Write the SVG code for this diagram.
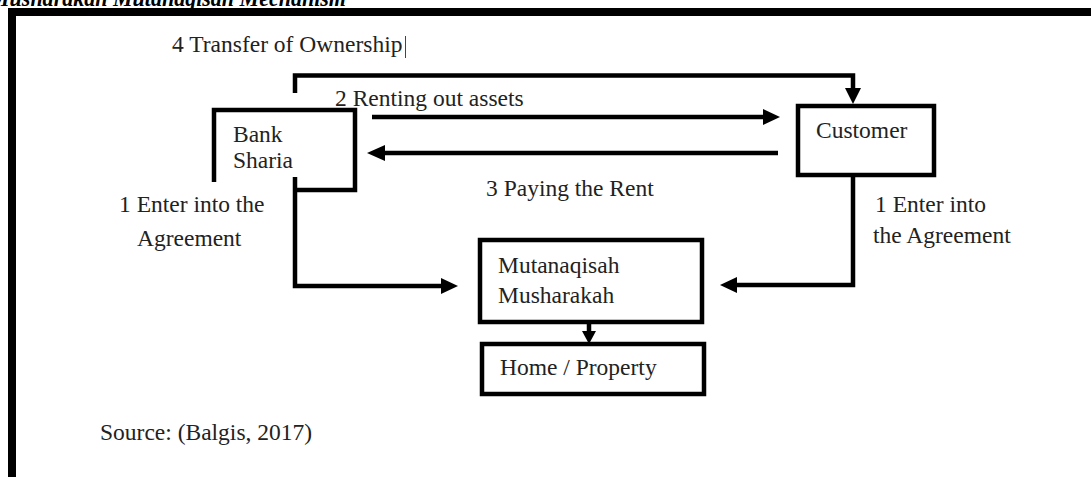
<svg xmlns="http://www.w3.org/2000/svg" width="1091" height="477" viewBox="0 0 1091 477">
<style>
.t{font-family:"Liberation Serif","Times New Roman",serif;font-size:23.5px;fill:#222}
.box{fill:#fff;stroke:#000;stroke-width:4.5}
.ln{fill:none;stroke:#000;stroke-width:4.5;stroke-linejoin:miter}
.ah{fill:#000}
</style>
<rect width="1091" height="477" fill="#fff"/>
<text x="-10" y="6" font-family="Liberation Serif, serif" font-size="24" font-weight="bold" font-style="italic" fill="#000" textLength="356" lengthAdjust="spacingAndGlyphs">Musharakah Mutanaqisah  Mechanism</text>
<path d="M12,477 V12 H1091" fill="none" stroke="#000" stroke-width="8"/>
<text class="t" x="172" y="52">4 Transfer of Ownership</text>
<line x1="405.5" y1="36" x2="405.5" y2="58" stroke="#444" stroke-width="1"/>
<g id="bank">
<path class="ln" d="M214,182 V110 H355 V190 H293"/>
<text class="t" x="233" y="142">Bank</text>
<text class="t" x="233" y="168">Sharia</text>
</g>
<g id="customer">
<rect class="box" x="798" y="106" width="136" height="69"/>
<text class="t" x="816" y="138">Customer</text>
</g>
<g id="musharakah">
<rect class="box" x="480" y="240" width="222" height="82"/>
<text class="t" x="498" y="273">Mutanaqisah</text>
<text class="t" x="498" y="303">Musharakah</text>
</g>
<g id="home">
<rect class="box" x="482" y="344" width="222" height="50"/>
<text class="t" x="500" y="375">Home / Property</text>
</g>
<g id="connectors">
<path class="ln" d="M295,93 V75.5 H853 V90"/>
<polygon class="ah" points="845,88 861,88 853,104"/>
<line class="ln" x1="372" y1="117" x2="765" y2="117"/>
<polygon class="ah" points="763,109 780,117 763,125"/>
<line class="ln" x1="778" y1="153" x2="383" y2="153"/>
<polygon class="ah" points="385,145 367,153 385,161"/>
<path class="ln" d="M295,177 V286 H443"/>
<polygon class="ah" points="441,278 458,286 441,294"/>
<path class="ln" d="M853,175 V285 H735"/>
<polygon class="ah" points="737,277 720,285 737,293"/>
<line class="ln" x1="589" y1="322" x2="589" y2="333"/>
<polygon class="ah" points="582,331 596,331 589,344"/>
</g>
<text class="t" x="335" y="106">2 Renting out assets</text>
<text class="t" x="486" y="196">3 Paying the Rent</text>
<text class="t" x="119" y="212">1 Enter into the</text>
<text class="t" x="137" y="246">Agreement</text>
<text class="t" x="875" y="212">1 Enter into</text>
<text class="t" x="873" y="243">the Agreement</text>
<text class="t" x="100" y="440">Source: (Balgis, 2017)</text>
</svg>
